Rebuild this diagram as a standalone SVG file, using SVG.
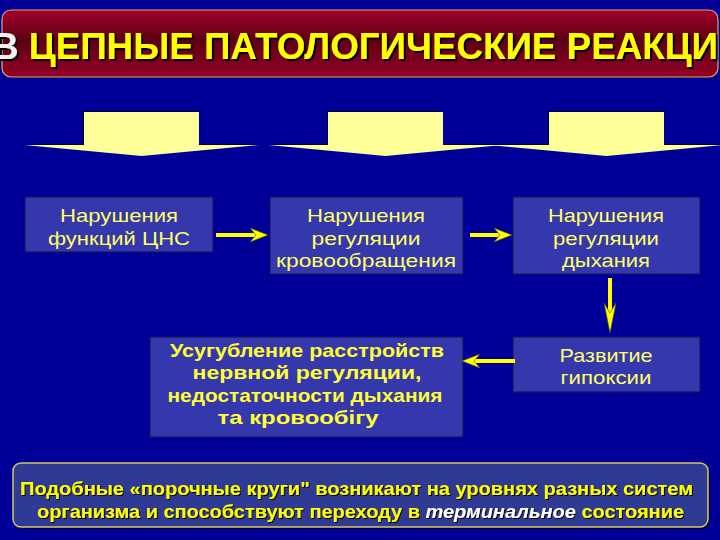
<svg xmlns="http://www.w3.org/2000/svg" width="720" height="540" viewBox="0 0 720 540">
<style>
.box{fill:#3537AC;stroke:#15155E;stroke-width:1.2}
.t{font-family:"Liberation Sans",Arial,sans-serif;font-size:19px;fill:#FFFF66;text-anchor:middle}
.tb{font-family:"Liberation Sans",Arial,sans-serif;font-size:19px;font-weight:bold;fill:#FFFF33;text-anchor:middle}
.title{font-family:"Liberation Sans",Arial,sans-serif;font-size:37px;font-weight:bold;fill:#FFFF00}
.foot{font-family:"Liberation Sans",Arial,sans-serif;font-size:19px;font-weight:bold;text-anchor:middle;fill:#FFFF00}
.blk{fill:#FFFF99}
.blksh{fill:#000033}
.con{stroke:#FFFF00;stroke-width:4;fill:none}
</style>
<defs>
<linearGradient id="tg" x1="0" y1="0" x2="0" y2="1">
<stop offset="0" stop-color="#A4002E"/>
<stop offset="0.45" stop-color="#5C0012"/>
<stop offset="1" stop-color="#960026"/>
</linearGradient>
<filter id="sh" x="-5%" y="-20%" width="110%" height="140%">
<feOffset in="SourceAlpha" dx="1.5" dy="1.5" result="o"/>
<feMerge><feMergeNode in="o"/><feMergeNode in="SourceGraphic"/></feMerge>
</filter>
<filter id="sh2" x="-5%" y="-20%" width="110%" height="140%">
<feOffset in="SourceAlpha" dx="1" dy="1" result="o"/>
<feMerge><feMergeNode in="o"/><feMergeNode in="SourceGraphic"/></feMerge>
</filter>
<marker id="ah" markerUnits="userSpaceOnUse" markerWidth="20" markerHeight="16" refX="6" refY="7" orient="auto" viewBox="-1 -1 20 16">
<path d="M0,0 L18,7 L0,14 L6,7 Z" fill="#FFFF00" stroke="#555500" stroke-width="0.6"/>
</marker>
<marker id="ahl" markerUnits="userSpaceOnUse" markerWidth="32" markerHeight="14" refX="10" refY="6" orient="auto" viewBox="-1 -1 32 14">
<path d="M0,0 L30,6 L0,12 L10,6 Z" fill="#FFFF00" stroke="#555500" stroke-width="0.6"/>
</marker>
</defs>
<rect width="720" height="540" fill="#000099"/>

<g id="title">
<rect x="3" y="11" width="716" height="67" rx="9" fill="#000044"/>
<rect x="2" y="10" width="716" height="67" rx="9" fill="url(#tg)" stroke="#D2B070" stroke-width="1.2"/>
<text class="title" x="-8" y="59" textLength="726" lengthAdjust="spacingAndGlyphs" filter="url(#sh)"><tspan fill="#F2F2F2">В</tspan> ЦЕПНЫЕ ПАТОЛОГИЧЕСКИЕ РЕАКЦИ</text>
</g>

<g id="block-arrows">
<polygon class="blksh" points="83,111 198,111 198,144 257,144 140.5,155 24,144 83,144"/>
<polygon class="blk" points="84,112 199,112 199,145 258.5,145 141.5,156 24.5,145 84,145"/>
<polygon class="blksh" points="327,111 442,111 442,144 501,144 384.5,155 268,144 327,144"/>
<polygon class="blk" points="328,112 443,112 443,145 502.5,145 385.5,156 268.5,145 328,145"/>
<polygon class="blksh" points="548,111 663,111 663,144 722,144 605.5,155 489,144 548,144"/>
<polygon class="blk" points="549,112 664,112 664,145 723.5,145 606.5,156 489.5,145 549,145"/>
</g>

<g id="n1">
<rect class="box" x="25" y="197" width="188" height="55"/>
<text class="t" x="119" y="222" textLength="118" lengthAdjust="spacingAndGlyphs">Нарушения</text>
<text class="t" x="119" y="245" textLength="142" lengthAdjust="spacingAndGlyphs">функций ЦНС</text>
</g>

<g id="n2">
<rect class="box" x="270" y="197" width="193" height="77"/>
<text class="t" x="366" y="222" textLength="118" lengthAdjust="spacingAndGlyphs">Нарушения</text>
<text class="t" x="366" y="244.5" textLength="109" lengthAdjust="spacingAndGlyphs">регуляции</text>
<text class="t" x="366" y="267" textLength="180" lengthAdjust="spacingAndGlyphs">кровообращения</text>
</g>

<g id="n3">
<rect class="box" x="513" y="197" width="187" height="77"/>
<text class="t" x="606" y="222" textLength="116" lengthAdjust="spacingAndGlyphs">Нарушения</text>
<text class="t" x="606" y="244.5" textLength="106" lengthAdjust="spacingAndGlyphs">регуляции</text>
<text class="t" x="606" y="267" textLength="88" lengthAdjust="spacingAndGlyphs">дыхания</text>
</g>

<g id="n4">
<rect class="box" x="513" y="337" width="187" height="55"/>
<text class="t" x="606" y="361.5" textLength="93" lengthAdjust="spacingAndGlyphs">Развитие</text>
<text class="t" x="606" y="384" textLength="91" lengthAdjust="spacingAndGlyphs">гипоксии</text>
</g>

<g id="n5">
<rect class="box" x="150" y="337" width="313" height="100"/>
<text class="tb" x="307" y="357" textLength="274" lengthAdjust="spacingAndGlyphs">Усугубление расстройств</text>
<text class="tb" x="307" y="379" textLength="229" lengthAdjust="spacingAndGlyphs">нервной регуляции,</text>
<text class="tb" x="305" y="401.5" textLength="275" lengthAdjust="spacingAndGlyphs">недостаточности дыхания</text>
<text class="tb" x="298" y="424" textLength="161" lengthAdjust="spacingAndGlyphs">та кровообігу</text>
</g>

<g id="connectors">
<line class="con" x1="216" y1="235" x2="256" y2="235" marker-end="url(#ah)"/>
<line class="con" x1="470" y1="235" x2="500" y2="235" marker-end="url(#ah)"/>
<line class="con" x1="610" y1="278" x2="610" y2="313" marker-end="url(#ahl)"/>
<line class="con" x1="515" y1="361" x2="474" y2="361" marker-end="url(#ah)"/>
</g>

<g id="footer">
<rect x="15" y="465" width="695" height="64" rx="8" fill="#000040"/>
<rect x="13" y="463" width="695" height="64" rx="8" fill="#2E3A94" stroke="#D8C860" stroke-width="1.5"/>
<text class="foot" x="356.5" y="495" textLength="673" lengthAdjust="spacingAndGlyphs" filter="url(#sh2)">Подобные «порочные круги" возникают на уровнях разных систем</text>
<text class="foot" x="360.5" y="518" textLength="647" lengthAdjust="spacingAndGlyphs" filter="url(#sh2)">организма и способствуют переходу в <tspan font-style="italic" fill="#FFFFFF">терминальное</tspan> состояние</text>
</g>
</svg>
